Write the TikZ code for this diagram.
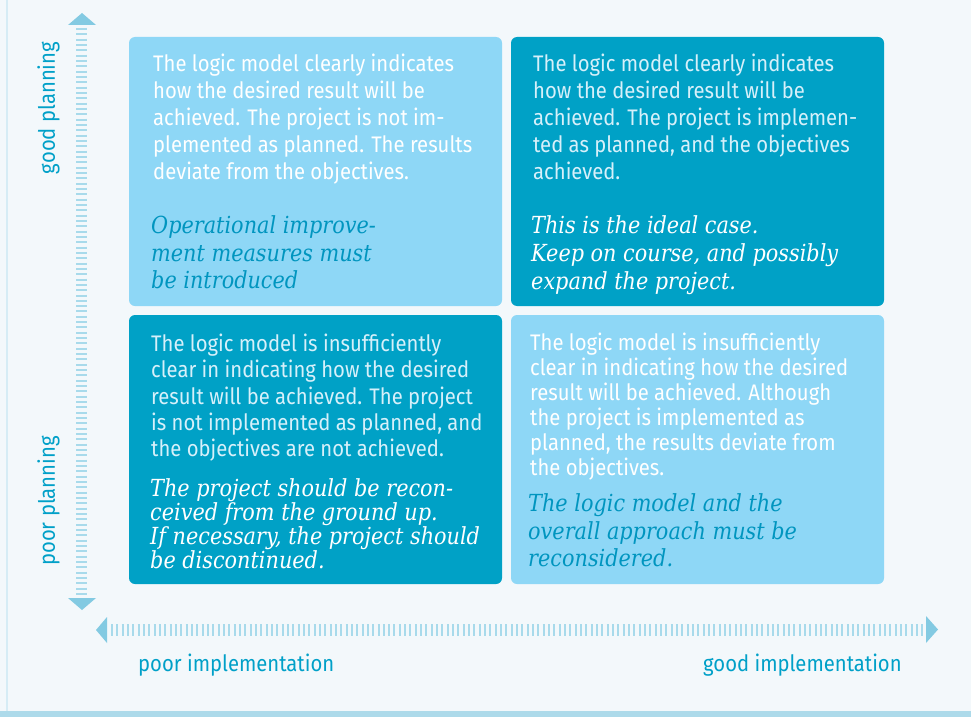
\documentclass[tikz,border=0pt]{standalone}
\usepackage{fontspec}
\setmainfont{Fira Sans}[FakeStretch=0.90]
\newfontfamily\serifit{DejaVu Serif}[FakeStretch=0.885]
\definecolor{bgcol}{HTML}{F3F8FB}
\definecolor{bordercol}{HTML}{D6ECF5}
\definecolor{barcol}{HTML}{ADDAEA}
\definecolor{lightbox}{HTML}{8ED7F6}
\definecolor{darkbox}{HTML}{00A1C6}
\definecolor{itcol}{HTML}{0095BF}
\definecolor{lightw}{HTML}{D6F0FA}
\definecolor{labelcol}{HTML}{00A0C8}
\definecolor{tricol}{HTML}{83CAE2}
\definecolor{tickcol}{HTML}{A8DAEB}
\newcommand{\fl}{\rule{0pt}{20pt}}
\tikzset{
  quad/.style={rounded corners=6pt},
  bodytext/.style={anchor=north west, inner sep=0pt, align=left},
  sanssize/.style={font=\fontsize{22.5}{#1}\selectfont},
  itsize/.style={font=\serifit\itshape\fontsize{23.5}{#1}\selectfont},
  axislabel/.style={inner sep=0pt, text=labelcol, font=\fontsize{22.5}{27}\selectfont},
  ticks/.style={tickcol, dash pattern=on 2pt off 3.33pt},
}
\begin{document}
\begin{tikzpicture}[x=1pt,y=-1pt]
\useasboundingbox (0,0) rectangle (971,717);
\fill[bgcol] (0,0) rectangle (971,717);
\fill[bordercol] (6,0) rectangle (7.5,711);
\fill[barcol] (0,711) rectangle (971,717);

% boxes
\fill[lightbox, quad] (129,37) rectangle (502,306);
\fill[darkbox, quad] (511,37) rectangle (884,306);
\fill[darkbox, quad] (129,315) rectangle (502,584);
\fill[lightbox, quad] (511,315) rectangle (884,584);

% axes
\draw[ticks, line width=11pt] (81.7,28) -- (81.7,596);
\fill[tricol] (68,25) -- (96,25) -- (82,13) -- cycle;
\fill[tricol] (68,598) -- (96,598) -- (82,610) -- cycle;
\draw[ticks, line width=12pt] (111,629.5) -- (924,629.5);
\fill[tricol] (107,617) -- (107,643) -- (96,630) -- cycle;
\fill[tricol] (926,616) -- (926,643) -- (938,629.5) -- cycle;

% TL
\node[bodytext, sanssize=27, text=white] (tlbody) at (153,51.5) {\fl The logic model clearly indicates\\how the desired result will be\\achieved. The project is not im-\\plemented as planned. The results\\deviate from the objectives.};
\node[bodytext, itsize=27.5, text=itcol] (tlit) at (151,213.3) {\fl Operational improve-\\ment measures must\\be introduced};
% TR
\node[bodytext, sanssize=27, text=lightw] (trbody) at (533,51.5) {\fl The logic model clearly indicates\\how the desired result will be\\achieved. The project is implemen-\\ted as planned, and the objectives\\achieved.};
\node[bodytext, itsize=28, text=white] (trit) at (531,213) {\fl This is the ideal case.\\Keep on course, and possibly\\expand the project.};
% BL
\node[bodytext, sanssize=26.25, text=lightw] (blbody) at (151,331.5) {\fl The logic model is insufficiently\\clear in indicating how the desired\\result will be achieved. The project\\is not implemented as planned, and\\the objectives are not achieved.};
\node[bodytext, itsize=24, text=white] (blit) at (150,476) {\fl The project should be recon-\\ceived from the ground up.\\If necessary, the project should\\be discontinued.};
% BR
\node[bodytext, sanssize=25, text=white] (brbody) at (530,330) {\fl The logic model is insufficiently\\clear in indicating how the desired\\result will be achieved. Although\\the project is implemented as\\planned, the results deviate from\\the objectives.};
\node[bodytext, itsize=27.5, text=itcol] (brit) at (528,491.7) {\fl The logic model and the\\overall approach must be\\reconsidered.};

% axis labels
\node[axislabel, anchor=base west] (poorimpl) at (138,671) {poor implementation};
\node[axislabel, anchor=base west] (goodimpl) at (703,671) {good implementation};
\node[axislabel, rotate=90] (goodplan) at (48.5,108) {good planning};
\node[axislabel, rotate=90] (poorplan) at (48.5,501) {poor planning};
\end{tikzpicture}
\end{document}
